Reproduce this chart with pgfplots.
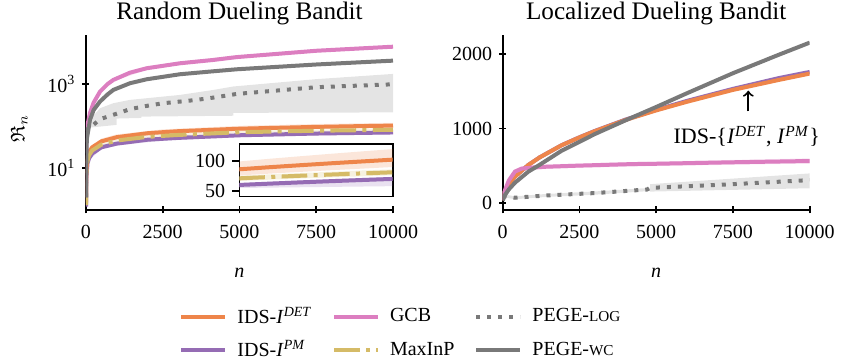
\documentclass[border=0pt]{standalone}
\usepackage{amssymb}
\usepackage{fontspec}
\setmainfont{Liberation Serif}
\usepackage{pgfplots}
\pgfplotsset{compat=1.18}
\definecolor{cdet}{HTML}{EE854A}
\definecolor{cpm}{HTML}{956CB4}
\definecolor{cgcb}{HTML}{DC7EC0}
\definecolor{cmax}{HTML}{D5BB67}
\definecolor{cgray}{HTML}{797979}
\pgfplotsset{
  every axis/.append style={
    scale only axis,
    axis line style={line width=0.8pt},
    tick style={line width=0.8pt, black},
    major tick length=3.5pt,
    tick align=outside,
    tick label style={font=\fontsize{10}{12}\selectfont},
    label style={font=\fontsize{10}{12}\selectfont},
    title style={font=\fontsize{12.6}{15}\selectfont, at={(0.5,1)}, anchor=base, yshift=1.5pt},
    /pgf/number format/assume math mode=true,
    /pgf/number format/1000 sep={},
    scaled x ticks=false, scaled y ticks=false,
  },
  spines/.style={
    axis x line=bottom, axis y line=left,
    x axis line style={-}, y axis line style={-},
    every outer x axis line/.append style={-},
    every outer y axis line/.append style={-},
    every inner x axis line/.append style={-},
    every inner y axis line/.append style={-},
    xticklabel style={yshift=-2.5pt},
    xlabel style={yshift=-7.5pt},
  },
  ln/.style={line width=2pt},
  logst/.style={line width=2pt, cgray, dash pattern=on 2pt off 3.5pt},
  maxst/.style={line width=2pt, cmax, dash pattern=on 12.8pt off 3.2pt on 2pt off 3.2pt},
  band/.style={fill=#1, fill opacity=0.2, draw=none, forget plot},
}
\begin{document}
\begin{tikzpicture}
% ---------------- left: Random Dueling Bandit ----------------
\begin{axis}[at={(0pt,0pt)}, anchor=south west, width=153.5pt, height=87.5pt,
  xmin=0, xmax=10000, ymode=log, ymin=1, ymax=14600,
  spines,
  xtick={0,2500,5000,7500,10000},
  ytick={10,1000}, yticklabels={10\textsuperscript{1},10\textsuperscript{3}},
  yminorticks=false,
  title={Random Dueling Bandit},
  xlabel={\textit{n}}, ylabel={$\mathfrak{R}_n$},
  ylabel style={xshift=-3pt, yshift=3pt},
  legend style={at={(1.029,-0.706)}, anchor=center, draw=none, fill=none,
    font=\fontsize{10}{12}\selectfont, row sep=3pt,
    /tikz/every odd column/.append style={column sep=3pt},
    /tikz/every even column/.append style={column sep=8pt}},
  legend columns=3, legend cell align=left,
  legend image code/.code={\draw[#1] (0pt,0pt) -- (22pt,0pt);},
]
% bands
\addplot[band=cdet] coordinates {(10,9.4)(100,28)(500,50)(1000,63)(2500,83)(5000,100.6)(7500,111)(10000,119)
 (10000,89.8)(7500,83.6)(5000,75.7)(2500,62.5)(1000,47.5)(500,38)(100,21)(10,7)} -- cycle;
\addplot[band=cpm] coordinates {(10,6.3)(100,17.9)(500,32.6)(1000,39.9)(2500,52)(5000,63)(7500,69.3)(10000,73.5)
 (10000,63)(7500,59.4)(5000,54)(2500,44.6)(1000,34.2)(500,27.9)(100,15.3)(10,5.4)} -- cycle;
\addplot[band=cmax] coordinates {(10,7.4)(100,21.2)(500,38.2)(1000,47.7)(2500,61.5)(5000,75.3)(7500,81.6)(10000,85.9)
 (10000,76.1)(7500,72.4)(5000,66.7)(2500,54.5)(1000,42.3)(500,33.8)(100,18.8)(10,6.6)} -- cycle;
\addplot[band=cgcb] coordinates {(10,33)(130,225)(456,720)(890,1370)(1977,2600)(3063,3410)(4910,4790)(7500,6770)(10000,8460)
 (10000,7080)(7500,5650)(4910,4000)(3063,2850)(1977,2170)(890,1145)(456,600)(130,188)(10,27)} -- cycle;
\addplot[fill=cgray, fill opacity=0.2, draw=none, forget plot] coordinates {(40,120)(456,264)(890,348)(1435,417)(1977,457)(3063,548)(4150,720)(4800,870)(7500,1300)(10000,1730)
 (10000,210)(4800,205)(4800,175)(1800,167)(1800,155)(1000,150)(1000,106)(40,90)} -- cycle;
% lines
\addplot[ln, cpm, forget plot] coordinates {(1,1.2)(10,6)(50,13)(100,17)(200,22)(500,31)(1000,38)(2000,47)(2500,49.5)(3000,52)(5000,60)(7500,66)(10000,70)};
\addplot[ln, cdet, forget plot] coordinates {(1,1.5)(10,8)(50,18)(100,24)(200,31)(500,43)(1000,54)(2000,67)(2500,71)(3000,75)(5000,86)(7500,95)(10000,102)};
\addplot[ln, cgcb, forget plot] coordinates {(1,2)(10,30)(30,90)(130,205)(250,360)(456,655)(700,990)(890,1245)(1435,1856)(1977,2360)(3063,3100)(4150,3720)(4910,4350)(7500,6150)(10000,7690)};
\addplot[maxst, forget plot] coordinates {(1,1.3)(10,7)(50,15)(100,20)(200,26)(500,36)(1000,45)(2000,55)(2500,58)(3000,61)(5000,71)(7500,77)(10000,81)};
\addplot[logst, forget plot] coordinates {(1,2)(10,30)(60,95)(240,106)(456,145)(890,184)(1435,251)(1977,300)(2520,348)(3063,380)(3606,417)(4150,473)(4910,578)(7500,835)(10000,980)};
\addplot[ln, cgray, forget plot] coordinates {(1,2)(10,20)(30,50)(130,140)(250,240)(456,380)(700,560)(890,720)(1435,1040)(1977,1290)(3063,1700)(4150,2000)(4910,2230)(7500,2900)(10000,3580)};
% legend
\addlegendimage{ln, cdet}\addlegendentry{IDS-\textit{I}\textsuperscript{\textit{DET}}}
\addlegendimage{ln, cgcb}\addlegendentry{GCB}
\addlegendimage{logst}\addlegendentry{PEGE-{\fontsize{7.6}{9}\selectfont LOG}}
\addlegendimage{ln, cpm}\addlegendentry{IDS-\textit{I}\textsuperscript{\textit{PM}}}
\addlegendimage{maxst}\addlegendentry{MaxInP}
\addlegendimage{ln, cgray}\addlegendentry{PEGE-{\fontsize{7.6}{9}\selectfont WC}}
\end{axis}
% ---------------- inset ----------------
\begin{axis}[at={(76.65pt,6.65pt)}, anchor=south west, width=76.7pt, height=26.35pt,
  xmin=5000, xmax=10000, ymin=40.5, ymax=128,
  xtick=\empty, ytick={50,100}, ytick pos=left,
  axis background/.style={fill=white},
]
\addplot[band=cdet] coordinates {(5000,99)(6000,103.5)(7000,107.7)(8000,111.8)(9000,115.7)(10000,119.5)
 (10000,89.8)(9000,87.1)(8000,84.5)(7000,81.7)(6000,78.8)(5000,75.7)} -- cycle;
\addplot[band=cmax] coordinates {(5000,75.3)(6000,77.6)(7000,79.8)(8000,81.9)(9000,84)(10000,85.9)
 (10000,76.1)(9000,74.4)(8000,72.7)(7000,70.8)(6000,68.8)(5000,66.7)} -- cycle;
\addplot[band=cpm] coordinates {(5000,63)(6000,65.3)(7000,67.5)(8000,69.6)(9000,71.6)(10000,73.5)
 (10000,58)(9000,57.4)(8000,56.8)(7000,56.2)(6000,55.6)(5000,55)} -- cycle;
\addplot[ln, cpm] coordinates {(5000,60)(6000,62.2)(7000,64.3)(8000,66.3)(9000,68.2)(10000,70)};
\addplot[ln, cdet] coordinates {(5000,86)(6000,89.5)(7000,92.8)(8000,96)(9000,99)(10000,102)};
\addplot[maxst] coordinates {(5000,71)(6000,73.2)(7000,75.3)(8000,77.3)(9000,79.2)(10000,81)};
\end{axis}
% ---------------- right: Localized Dueling Bandit ----------------
\begin{axis}[at={(208.35pt,0pt)}, anchor=south west, width=153.5pt, height=87.5pt,
  xmin=0, xmax=10000, ymin=-98, ymax=2260,
  spines, clip mode=individual,
  xtick={0,2500,5000,7500,10000}, ytick={0,1000,2000},
  title={Localized Dueling Bandit},
  xlabel={\textit{n}},
]
\addplot[band=cgcb] coordinates {(0,50)(200,320)(400,445)(620,490)(1417,515)(2500,530)(5000,555)(10000,598)
 (10000,528)(5000,495)(2500,470)(1417,455)(620,430)(400,395)(200,280)(0,30)} -- cycle;
\addplot[fill=cgray, fill opacity=0.2, draw=none] coordinates {(0,115)(400,87)(1417,118)(3000,152)(4800,200)(4800,250)(10000,395)
 (10000,195)(4800,150)(4800,158)(3000,108)(1417,78)(400,47)(0,75)} -- cycle;
\addplot[ln, cpm] coordinates {(0,30)(25,100)(75,153)(200,250)(400,352)(833,508)(1200,610)(1917,775)(2500,882)(3000,967)(4000,1120)(5000,1251)(6000,1372)(7500,1534)(9000,1680)(10000,1762)};
\addplot[ln, cdet] coordinates {(0,30)(25,100)(75,153)(200,250)(400,352)(833,508)(1200,610)(1917,774)(2500,880)(3000,964)(4000,1115)(5000,1244)(6000,1360)(7500,1520)(9000,1655)(10000,1740)};
\addplot[ln, cgcb] coordinates {(0,40)(75,170)(200,300)(400,420)(620,460)(1000,475)(1417,485)(2500,500)(4250,521)(5000,525)(7500,545)(10000,562)};
\addplot[logst] coordinates {(0,95)(400,67)(1417,98)(3000,130)(4700,178)(4800,200)(7500,250)(10000,305)};
\addplot[ln, cgray] coordinates {(0,30)(75,104)(200,180)(400,270)(833,418)(1200,510)(1917,700)(2500,820)(3000,925)(4000,1110)(5000,1290)(6000,1475)(7500,1745)(9000,1995)(10000,2157)};
\draw[->, line width=1pt, black] (axis cs:8000,1230) -- (axis cs:8000,1510);
\node[font=\fontsize{11}{13}\selectfont] at (axis cs:7950,890) {IDS-\{\textit{I}\textsuperscript{\textit{DET}}, \textit{I}\textsuperscript{\textit{PM}}\}};
\end{axis}
\pgfresetboundingbox
\path (-43pt,-76.5pt) rectangle (379.5pt,105pt);
\end{tikzpicture}
\end{document}
